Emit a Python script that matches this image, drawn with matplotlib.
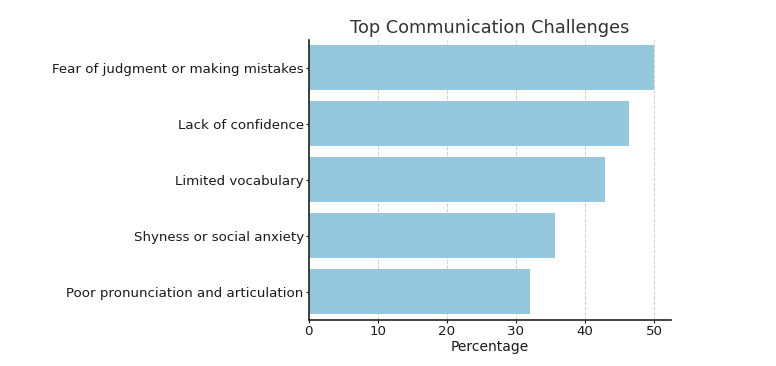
import numpy as np
import matplotlib.pyplot as plt

challenges = ['Fear of judgment or making mistakes', 'Lack of confidence', 'Limited vocabulary',
              'Shyness or social anxiety', 'Poor pronunciation and articulation']
percentages = [50.0, 46.4, 42.9, 35.7, 32.1]

fig = plt.figure(figsize=(7.76, 3.66), dpi=100)
ax = fig.add_axes([0.398, 0.126, 0.467, 0.765])

y = np.arange(len(challenges))[::-1]
ax.barh(y, percentages, height=0.8, color='#96c8dd', zorder=2)
ax.set_yticks(y)
ax.set_yticklabels(challenges)
ax.set_ylim(-0.5, 4.5)
ax.grid(axis='x', linestyle='--', color='#bbbbbb', linewidth=0.7, zorder=3, alpha=0.7)

ax.spines['top'].set_visible(False)
ax.spines['right'].set_visible(False)
for s in ['left', 'bottom']:
    ax.spines[s].set_color('#222222')
    ax.spines[s].set_linewidth(1.2)
ax.tick_params(labelsize=9.6, colors='#1a1a1a', length=2.5, pad=1.2)
ax.set_xlabel('Percentage', fontsize=10, color='#1a1a1a', labelpad=1.5)
ax.set_title('Top Communication Challenges', fontsize=12.8, color='#333333', pad=4.8)

fig.savefig('out.png')
